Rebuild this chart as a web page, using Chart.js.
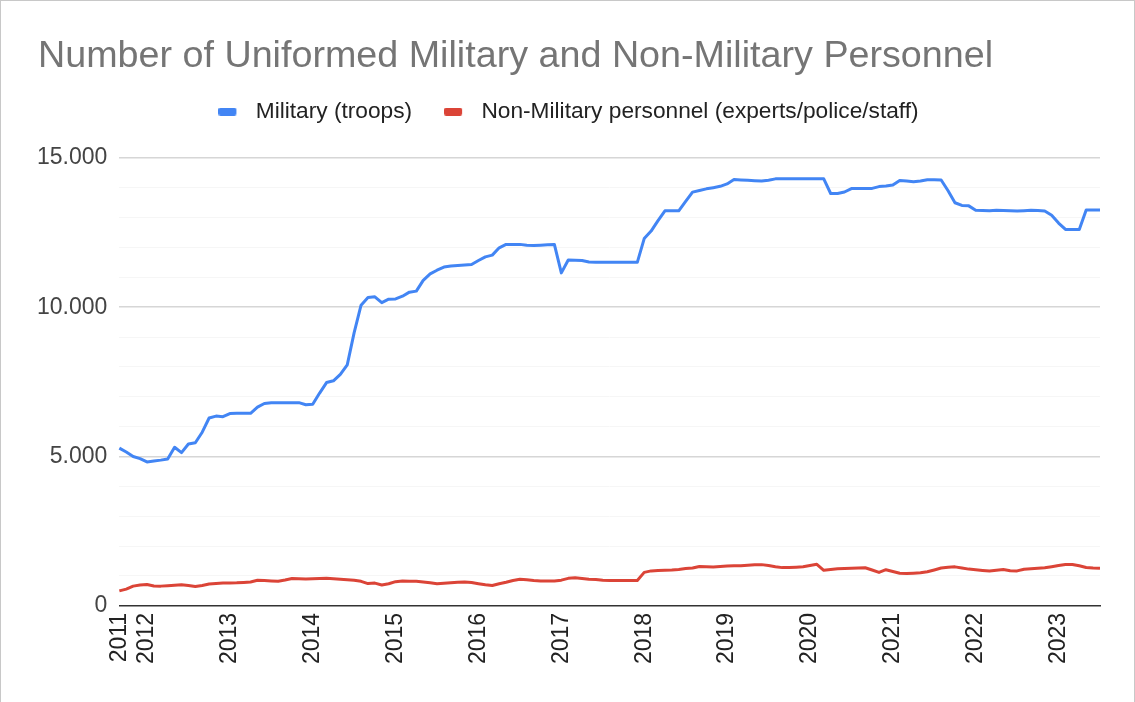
<!DOCTYPE html>
<html>
<head>
<meta charset="utf-8">
<script src="https://cdn.jsdelivr.net/npm/chart.js@4.4.0/dist/chart.umd.min.js"></script>
<style>
  html, body { margin: 0; padding: 0; background: #fff; }
  #wrap { position: relative; width: 1135px; height: 702px; }
  #frame { position: absolute; left: 0; top: 0; width: 1133px; height: 702px; border: 1px solid #c8c8c8; border-bottom: none; pointer-events: none; }
</style>
</head>
<body>
<div id="wrap">
  <canvas id="c" width="1135" height="702"></canvas>
  <div id="frame"></div>
</div>
<script>
const months = [
  "2011-09","2011-10","2011-11","2011-12",
  "2012-01","2012-02","2012-03","2012-04","2012-05","2012-06","2012-07","2012-08","2012-09","2012-10","2012-11","2012-12",
  "2013-01","2013-02","2013-03","2013-04","2013-05","2013-06","2013-07","2013-08","2013-09","2013-10","2013-11","2013-12",
  "2014-01","2014-02","2014-03","2014-04","2014-05","2014-06","2014-07","2014-08","2014-09","2014-10","2014-11","2014-12",
  "2015-01","2015-02","2015-03","2015-04","2015-05","2015-06","2015-07","2015-08","2015-09","2015-10","2015-11","2015-12",
  "2016-01","2016-02","2016-03","2016-04","2016-05","2016-06","2016-07","2016-08","2016-09","2016-10","2016-11","2016-12",
  "2017-01","2017-02","2017-03","2017-04","2017-05","2017-06","2017-07","2017-08","2017-09","2017-10","2017-11","2017-12",
  "2018-01","2018-02","2018-03","2018-04","2018-05","2018-06","2018-07","2018-08","2018-09","2018-10","2018-11","2018-12",
  "2019-01","2019-02","2019-03","2019-04","2019-05","2019-06","2019-07","2019-08","2019-09","2019-10","2019-11","2019-12",
  "2020-01","2020-02","2020-03","2020-04","2020-05","2020-06","2020-07","2020-08","2020-09","2020-10","2020-11","2020-12",
  "2021-01","2021-02","2021-03","2021-04","2021-05","2021-06","2021-07","2021-08","2021-09","2021-10","2021-11","2021-12",
  "2022-01","2022-02","2022-03","2022-04","2022-05","2022-06","2022-07","2022-08","2022-09","2022-10","2022-11","2022-12",
  "2023-01","2023-02","2023-03","2023-04","2023-05","2023-06","2023-07"
];

const military = [
  5280,5150,5000,4930,
  4820,4850,4880,4920,5310,5130,5420,5460,5815,6290,6355,6335,
  6440,6448,6448,6448,6655,6775,6805,6805,6805,6805,6805,6735,
  6750,7125,7477,7537,7750,8070,9150,10070,10325,10350,10155,10270,
  10280,10370,10505,10540,10900,11115,11240,11347,11380,11400,11415,11430,
  11565,11688,11745,11990,12105,12105,12105,12075,12065,12080,12090,12100,
  11150,11580,11575,11565,11515,11504,11504,11504,11504,11504,11504,11504,
  12300,12550,12900,13230,13230,13230,13545,13855,13910,13965,14005,14050,
  14130,14275,14265,14250,14240,14225,14255,14299,14299,14299,14299,14299,
  14299,14299,14299,13809,13809,13860,13975,13977,13977,13980,14040,14060,
  14090,14247,14230,14205,14230,14270,14270,14260,13900,13500,13410,13395,
  13250,13240,13232,13245,13240,13230,13222,13235,13250,13240,13225,13080,
  12820,12606,12606,12606,13254,13254,13254
];

const nonMilitary = [
  500,560,660,700,
  716,665,660,675,690,704,680,648,680,730,750,764,
  764,770,785,800,855,850,835,825,865,915,910,898,
  905,915,920,905,888,870,855,820,745,762,700,740,
  810,830,825,823,800,770,740,755,775,790,800,780,
  740,705,680,740,790,850,890,870,845,835,835,835,
  860,920,940,915,890,885,860,850,850,850,850,850,
  1120,1170,1180,1190,1200,1220,1250,1270,1320,1310,1300,1315,
  1330,1340,1345,1360,1375,1380,1350,1310,1280,1285,1295,1310,
  1350,1390,1190,1215,1240,1250,1255,1265,1275,1200,1120,1210,
  1150,1090,1083,1095,1105,1140,1200,1265,1290,1305,1270,1230,
  1210,1185,1165,1195,1215,1175,1170,1225,1245,1260,1275,1310,
  1350,1385,1385,1340,1285,1265,1255
];

const seriesNames = ["Military (troops)", "Non-Military personnel (experts/police/staff)"];
const seriesColors = ['#4285f4', '#db4437'];
const yTicks = [0, 5000, 10000, 15000];
const titleText = "Number of Uniformed Military and Non-Military Personnel";

const FONT = "'Liberation Sans', Arial, Helvetica, sans-serif";

// legend swatch: small rounded bar on the left of a 26px wide slot
function swatch(color) {
  const c = document.createElement('canvas');
  c.width = 26; c.height = 8;
  const g = c.getContext('2d');
  g.fillStyle = color;
  g.beginPath();
  if (g.roundRect) g.roundRect(0, 0, 18, 8, 2); else g.rect(0, 0, 18, 8);
  g.fill();
  return c;
}

const shiftPlugin = {
  id: 'shiftBlocks',
  afterLayout(chart) {
    if (chart.titleBlock) { chart.titleBlock.left += 13; chart.titleBlock.right += 13; }
    if (chart.legend) { chart.legend.left += 6; chart.legend.right += 6; }
  }
};

new Chart(document.getElementById('c'), {
  type: 'line',
  plugins: [shiftPlugin],
  data: {
    labels: months,
    datasets: [
      { label: seriesNames[0], data: military, borderColor: seriesColors[0], backgroundColor: seriesColors[0],
        borderWidth: 3, pointRadius: 0, tension: 0, borderJoinStyle: 'round', pointStyle: swatch(seriesColors[0]) },
      { label: seriesNames[1], data: nonMilitary, borderColor: seriesColors[1], backgroundColor: seriesColors[1],
        borderWidth: 3, pointRadius: 0, tension: 0, borderJoinStyle: 'round', pointStyle: swatch(seriesColors[1]) }
    ]
  },
  options: {
    responsive: false,
    animation: false,
    events: [],
    layout: { padding: { left: 25, right: 35, top: 0, bottom: 31 } },
    plugins: {
      title: {
        display: true, text: titleText, align: 'start', color: '#757575',
        font: { family: FONT, size: 37.7, weight: 'normal' },
        padding: { top: 34, bottom: -11 }
      },
      subtitle: {
        display: true, text: ' ', weight: 500,
        font: { family: FONT, size: 10, lineHeight: 1 },
        padding: { top: 0, bottom: 15 }
      },
      legend: {
        display: true, position: 'top', align: 'center',
        labels: {
          color: '#222', font: { family: FONT, size: 22.7 },
          usePointStyle: true, pointStyleWidth: 26, boxHeight: 8, padding: 32
        }
      },
      tooltip: { enabled: false }
    },
    scales: {
      x: {
        type: 'category', offset: false,
        grid: { display: false, drawTicks: false },
        border: { display: true, color: '#333', width: 1.5 },
        ticks: {
          autoSkip: false, maxRotation: 90, minRotation: 90, padding: 7,
          color: '#222', font: { family: FONT, size: 23 },
          callback: function (v, i) {
            const m = months[i];
            return (i === 0 || m.endsWith('-01')) ? m.slice(0, 4) : '';
          }
        }
      },
      y: {
        min: 0, max: 15000,
        border: { display: false },
        grid: {
          drawTicks: false,
          color: ctx => {
            const v = ctx.tick.value;
            if (v === 0) return 'rgba(0,0,0,0)';
            return yTicks.includes(v) ? '#d6d6d6' : '#f6f6f6';
          },
          lineWidth: ctx => yTicks.includes(ctx.tick.value) ? 1.5 : 1
        },
        ticks: {
          stepSize: 1000, padding: 12, color: '#444', autoSkip: false,
          font: { family: FONT, size: 23 },
          callback: v => yTicks.includes(v) ? v.toLocaleString('de-DE') : ''
        }
      }
    }
  }
});
</script>
</body>
</html>
